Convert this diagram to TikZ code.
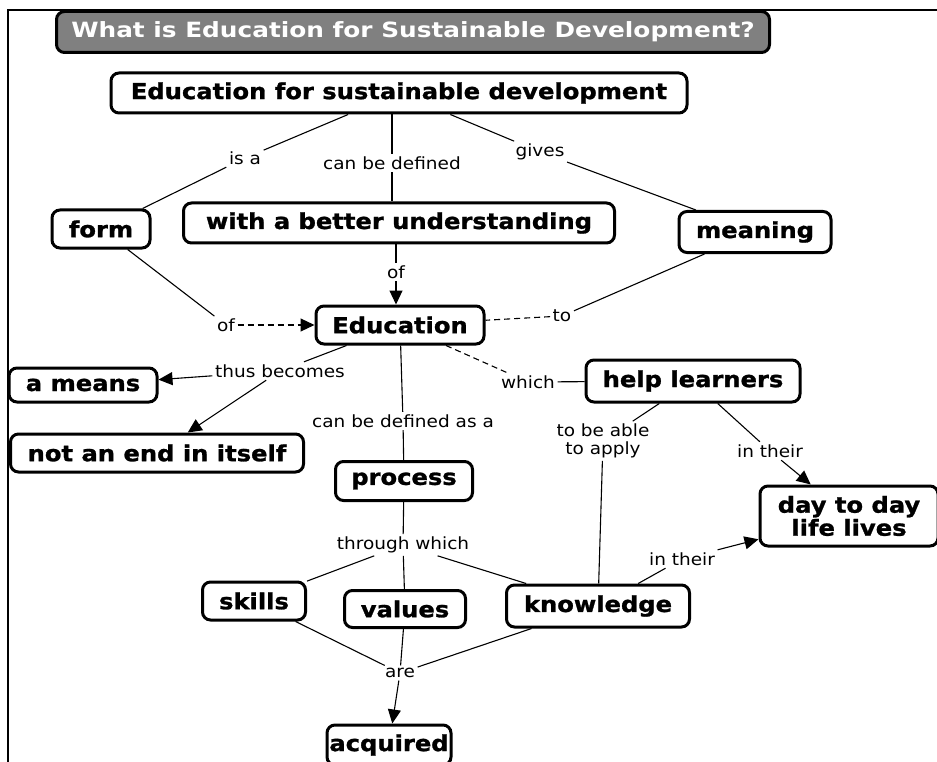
\documentclass[tikz,border=0pt]{standalone}
\usepackage{fontspec}
\setmainfont{DejaVu Sans}
\newfontfamily\nodefont{DejaVu Sans}[FakeStretch=1.1, BoldFeatures={FakeBold=1.2}]
\newfontfamily\labelfont{DejaVu Sans}[FakeStretch=1.1]
\newfontfamily\titlefont{DejaVu Sans}[FakeStretch=1.18]
\usetikzlibrary{arrows.meta}
\definecolor{titlegray}{HTML}{808080}
\tikzset{
  concept/.style={draw=black, line width=3pt, rounded corners=8pt, fill=white,
    inner sep=0pt, align=center,
    font=\nodefont\bfseries\fontsize{22}{23}\selectfont},
  linklabel/.style={inner sep=2.5pt, align=center,
    font=\labelfont\fontsize{16.8}{18}\selectfont},
  conn/.style={line width=1.1pt},
  dconn/.style={line width=1.1pt, dash pattern=on 6pt off 4pt},
  arr/.style={-{Triangle[length=14pt,width=13pt]}},
  titlebox/.style={draw=black, line width=3pt, rounded corners=8pt, fill=titlegray,
    text=white, inner sep=0pt, font=\titlefont\bfseries\fontsize{21}{21}\selectfont}
}
\begin{document}
\begin{tikzpicture}[x=1pt,y=-1pt]
\useasboundingbox (0,0) rectangle (937,762);
\fill[white] (0,0) rectangle (937,762);
% frame
\coordinate (fbl) at (8,762);
\coordinate (ftl) at (8,10);
\coordinate (ftr) at (937,10);
\draw[line width=2pt] (fbl) -- (ftl) -- (ftr);
% title
\node[titlebox, minimum width=713pt, minimum height=41pt] (title) at (413,32) {What is Education for Sustainable Development?};
% concepts
\node[concept, minimum width=576pt, minimum height=40pt] (esd) at (399,93) {Education for sustainable development};
\node[concept, minimum width=98pt, minimum height=38pt] (form) at (101,229) {form};
\node[concept, minimum width=431pt, minimum height=40pt] (under) at (399,223) {with a better understanding};
\node[concept, minimum width=152pt, minimum height=41pt] (meaning) at (755,232) {meaning};
\node[concept, minimum width=168pt, minimum height=38pt] (edu) at (400,325) {Education};
\node[concept, minimum width=148pt, minimum height=34pt] (means) at (83,385) {a means};
\node[concept, minimum width=293pt, minimum height=38pt] (notend) at (157,453) {not an end in itself};
\node[concept, minimum width=214pt, minimum height=42pt] (help) at (693,381) {help learners};
\node[concept, minimum width=137pt, minimum height=39pt] (process) at (404,481) {process};
\node[concept, minimum width=178pt, minimum height=60pt] (day) at (849,516) {day to day\\life lives};
\node[concept, minimum width=103pt, minimum height=38pt] (skills) at (254,601) {skills};
\node[concept, minimum width=121pt, minimum height=37pt] (values) at (405,609) {values};
\node[concept, minimum width=183pt, minimum height=42pt] (knowledge) at (598,606) {knowledge};
\node[concept, minimum width=124pt, minimum height=40pt] (acquired) at (389,745) {acquired};
% linking phrases
\node[linklabel] (isa) at (245,158) {is a};
\node[linklabel] (cbd) at (392,163) {can be defined};
\node[linklabel] (gives) at (540,152) {gives};
\node[linklabel] (of1) at (396,272) {of};
\node[linklabel] (of2) at (226,325) {of};
\node[linklabel] (to) at (562,316) {to};
\node[linklabel] (thus) at (280,371) {thus becomes};
\node[linklabel] (which) at (528,382) {which};
\node[linklabel] (cbda) at (403,421) {can be defined as a};
\node[linklabel] (tbaa) at (603,441) {to be able\\to apply};
\node[linklabel] (inth1) at (770,451) {in their};
\node[linklabel] (through) at (403,545) {through which};
\node[linklabel] (inth2) at (682,559) {in their};
\node[linklabel] (are) at (400,673) {are};
% connectors
\draw[conn] (esd) -- (isa);
\draw[conn] (isa) -- (form);
\draw[conn] (esd.south -| cbd) -- (cbd);
\draw[conn] (cbd) -- (under.north -| cbd);
\draw[conn] (esd) -- (gives);
\draw[conn] (gives) -- (meaning);
\draw[conn] (under.south -| of1) -- (of1);
\draw[conn,arr] (of1) -- (edu.north -| of1);
\draw[conn] (form) -- (of2);
\draw[dconn,arr] (of2) -- (edu);
\draw[conn] (meaning) -- (to);
\draw[dconn] (to) -- (edu);
\draw[conn] (edu) -- (thus);
\draw[conn,arr] (thus) -- (means);
\draw[conn,arr] (thus) -- (notend);
\draw[conn] (edu) -- (cbda);
\draw[conn] (cbda) -- (process);
\draw[dconn] (edu) -- (which);
\draw[conn] (which) -- (help);
\draw[conn] (help) -- (tbaa);
\draw[conn] (tbaa) -- (knowledge);
\draw[conn] (help) -- (inth1);
\draw[conn,arr] (inth1) -- (day);
\draw[conn] (process) -- (through);
\draw[conn] (through) -- (skills);
\draw[conn] (through) -- (values);
\draw[conn] (through) -- (knowledge);
\draw[conn] (knowledge) -- (inth2);
\draw[conn,arr] (inth2) -- (day);
\draw[conn] (skills) -- (are);
\draw[conn] (values) -- (are);
\draw[conn] (knowledge) -- (are);
\draw[conn,arr] (are) -- (acquired);
\end{tikzpicture}
\end{document}
